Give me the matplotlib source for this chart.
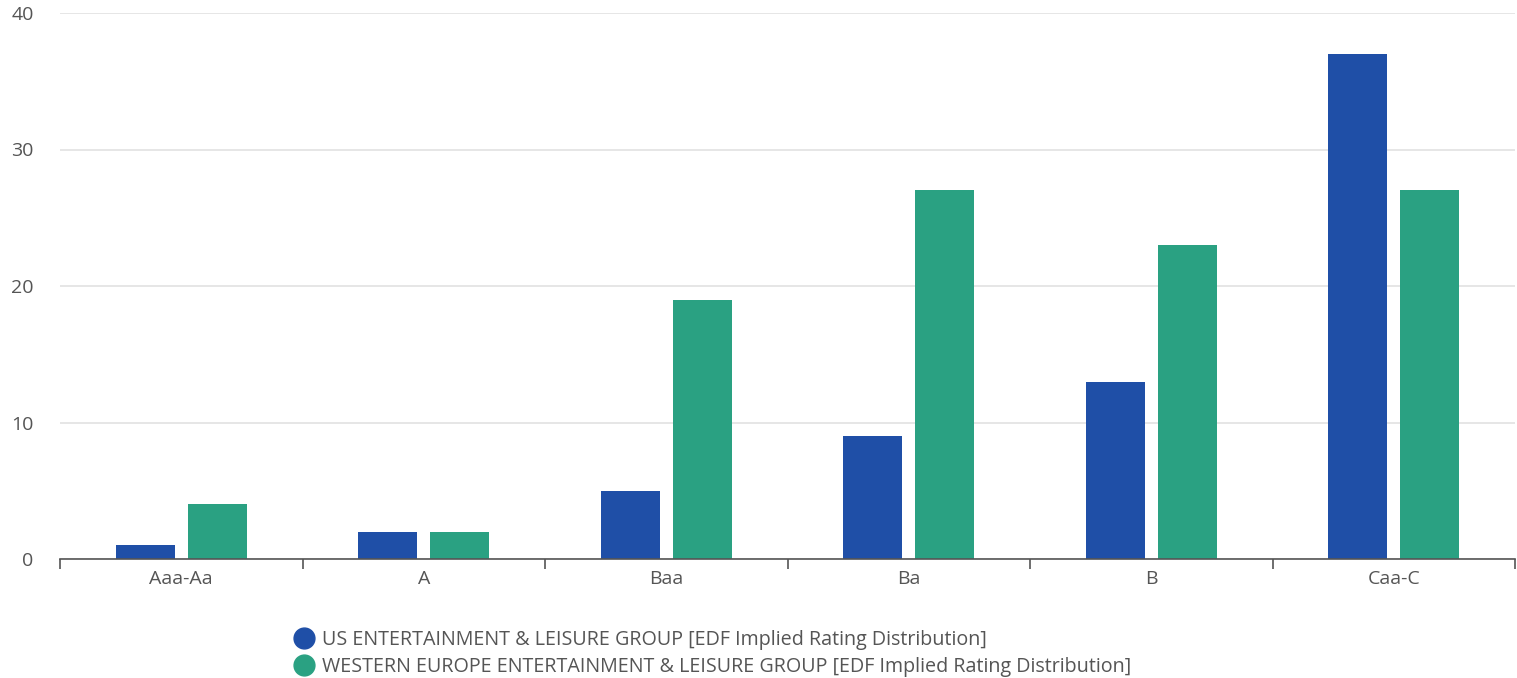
import matplotlib
matplotlib.use("Agg")
import matplotlib.pyplot as plt
from matplotlib.lines import Line2D
import numpy as np

categories = ["Aaa-Aa", "A", "Baa", "Ba", "B", "Caa-C"]
us_values = [1, 2, 5, 9, 13, 37]
we_values = [4, 2, 19, 27, 23, 27]
series_names = [
    "US ENTERTAINMENT & LEISURE GROUP [EDF Implied Rating Distribution]",
    "WESTERN EUROPE ENTERTAINMENT & LEISURE GROUP [EDF Implied Rating Distribution]",
]
y_ticks = [0, 10, 20, 30, 40]

blue = "#1F4FA7"
green = "#2AA182"
text_color = "#555555"

plt.rcParams["font.family"] = ["Open Sans", "DejaVu Sans"]

W, H = 1517, 678
fig = plt.figure(figsize=(W / 100, H / 100), dpi=100)
ax = fig.add_axes([60 / W, 1 - 559 / H, (1515 - 60) / W, (559 - 13) / H])

x = np.arange(len(categories))
bw = 0.243
off = 0.148
ax.bar(x - off, us_values, width=bw, color=blue, zorder=3)
ax.bar(x + off, we_values, width=bw, color=green, zorder=3)

ax.set_xlim(-0.5, len(categories) - 0.5)
ax.set_ylim(0, 40)
ax.set_yticks(y_ticks)
ax.set_yticklabels([str(t) for t in y_ticks])
ax.grid(axis="y", color="#e1e1e1", linewidth=1.2, zorder=0)

# category boundaries carry the tick marks, labels sit at category centres
ax.set_xticks(np.arange(len(categories) + 1) - 0.5)
ax.set_xticklabels([])
ax.set_xticks(x, minor=True)
ax.set_xticklabels(categories, minor=True)
ax.tick_params(axis="x", which="major", length=7, width=1.2, color="#555555", direction="out")
ax.tick_params(axis="x", which="minor", length=0, pad=8, labelsize=14, labelcolor=text_color)
ax.tick_params(axis="y", length=0, pad=19, labelsize=14, labelcolor=text_color)

for s in ["top", "right", "left"]:
    ax.spines[s].set_visible(False)
ax.spines["bottom"].set_color("#555555")
ax.spines["bottom"].set_linewidth(1.2)
ax.spines["bottom"].set_zorder(4)

handles = [
    Line2D([], [], marker="o", linestyle="none", markersize=15, color=blue),
    Line2D([], [], marker="o", linestyle="none", markersize=15, color=green),
]
fig.legend(handles, series_names, loc="upper left", bbox_to_anchor=(282 / W, 1 - 620 / H),
           frameon=False, fontsize=14.2, labelcolor=text_color, handletextpad=0.35,
           labelspacing=0.36, borderpad=0, handlelength=1.2)

fig.savefig("out.png", dpi=100)
